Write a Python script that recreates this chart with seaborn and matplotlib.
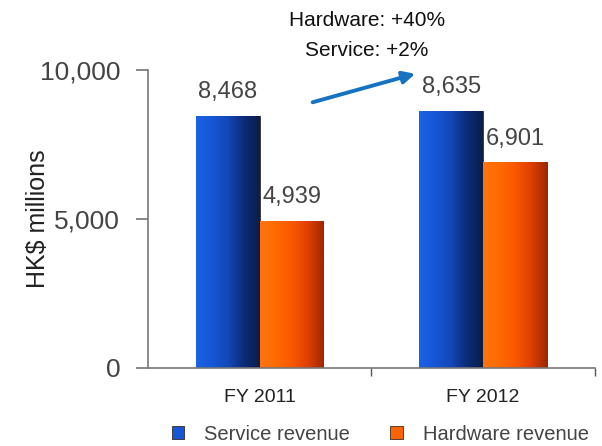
import pandas as pd
import matplotlib.pyplot as plt
import seaborn as sns
import numpy as np
from matplotlib.colors import LinearSegmentedColormap

sns.set_theme(style="white")
plt.rcParams['font.family'] = ['Liberation Sans', 'DejaVu Sans']

years = ["FY 2011", "FY 2012"]
service = [8468, 8635]
hardware = [4939, 6901]
series = ["Service revenue", "Hardware revenue"]

df = pd.DataFrame({
    "year": years * 2,
    "revenue": service + hardware,
    "series": [series[0]] * 2 + [series[1]] * 2,
})

fig, ax = plt.subplots(figsize=(6.02, 4.46), dpi=100)
fig.subplots_adjust(left=0.246, right=0.988, top=0.843, bottom=0.175)

sns.barplot(
    data=df, x="year", y="revenue", hue="series",
    palette=["#1656d6", "#ff6400"], saturation=1, width=0.57, gap=0,
    edgecolor="#3a2a20", linewidth=0.6, ax=ax,
)

# shaded look on the bars (gradient clipped to each bar)
cmaps = [
    LinearSegmentedColormap.from_list("b", ["#1c62e6", "#1656d6", "#1248b8", "#0c2c78", "#0a1e48"]),
    LinearSegmentedColormap.from_list("o", ["#ff7410", "#ff6a00", "#fa5800", "#e04000", "#a02800"]),
]
grad = np.linspace(0, 1, 64).reshape(1, -1)
for cont, cm in zip(ax.containers, cmaps):
    for p in cont.patches:
        x0, y0, w, h = p.get_x(), p.get_y(), p.get_width(), p.get_height()
        im = ax.imshow(grad, cmap=cm, aspect="auto", extent=(x0, x0 + w, y0, y0 + h),
                       zorder=p.get_zorder() + 0.1)
        im.set_clip_path(p)

# value labels
for cont in ax.containers:
    ax.bar_label(cont, labels=[f"{v:,.0f}" for v in cont.datavalues],
                 padding=9, fontsize=17, color="#444444")

ax.set_ylim(0, 10000)
ax.set_xlim(-0.5, 1.5)
ax.set_yticks([0, 5000, 10000])
ax.set_yticklabels(["0", "5,000", "10,000"], fontsize=19, color="#444444")
ax.set_xticks([0, 1])
ax.set_xticklabels(years, fontsize=14, color="#222222")
ax.set_xticks([0.5, 1.5], minor=True)
ax.tick_params(axis="y", length=9, color="#777777", pad=11, left=True)
ax.tick_params(axis="x", which="major", length=0, pad=15)
ax.tick_params(axis="x", which="minor", length=6, color="#555555", bottom=True)
ax.set_xlabel("")
ax.set_ylabel("HK$ millions", fontsize=18, color="#222222")
ax.yaxis.set_label_coords(-0.22, 0.5)

sns.despine(ax=ax)
for s in ["left", "bottom"]:
    ax.spines[s].set_color("#777777")
    ax.spines[s].set_linewidth(1.2)

# growth arrow and notes
ax.annotate("", xy=(0.708, 9899), xytext=(0.225, 8893),
            arrowprops=dict(arrowstyle="-|>", color="#1872c2", lw=2.8,
                            mutation_scale=18), annotation_clip=False)
ax.text(0.48, 11678, "Hardware: +40%", ha="center", va="center",
        fontsize=15, color="#111111", clip_on=False)
ax.text(0.48, 10671, "Service: +2%", ha="center", va="center",
        fontsize=15, color="#111111", clip_on=False)

ax.legend(loc="upper center", bbox_to_anchor=(0.52, -0.163), ncol=2,
          frameon=False, fontsize=14.5, handlelength=0.6, handleheight=0.6,
          handletextpad=1.0, columnspacing=2.0, labelcolor="#444444",
          borderaxespad=0)

fig.savefig("out.png", dpi=100)
